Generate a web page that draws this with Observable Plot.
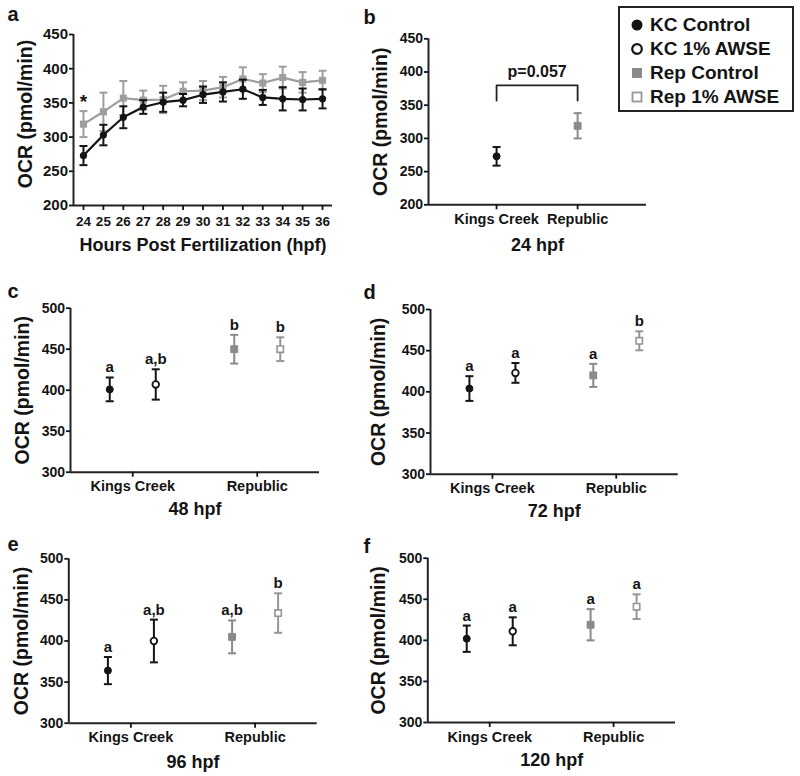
<!DOCTYPE html>
<html><head><meta charset="utf-8">
<script src="https://cdn.jsdelivr.net/npm/d3@7"></script>
<script src="https://cdn.jsdelivr.net/npm/@observablehq/plot@0.6"></script>
<style>
body{margin:0;background:#fff;}
#wrap{position:relative;width:800px;height:776px;background:#fff;font-family:"Liberation Sans",Arial,sans-serif;color:#141414;overflow:hidden;}
.p{position:absolute;}
#legend{position:absolute;left:618px;top:6px;width:172px;height:102px;border:2px solid #222;background:#fff;}
#legend .row{position:absolute;left:0;height:24px;display:flex;align-items:center;font-weight:bold;font-size:19px;white-space:nowrap;}
#legend svg{margin-left:10px;margin-right:6px;}
</style></head><body><div id="wrap"></div><script>
// ---------- data ----------
const hpf = [24,25,26,27,28,29,30,31,32,33,34,35,36];
const kcControlA = [273,303,329,344,351,354,362,366,370,358,356,355,356];
const kcControlSemA = [14,15,16,10,14,9,12,14,14,11,17,16,14];
const repControlA = [319,337,357,354,355,367,368,373,385,379,387,380,383];
const repControlSemA = [19,28,25,14,20,13,14,15,17,13,16,15,14];
const starHpf = [24];

const sites = ["Kings Creek","Republic"];
const groups = ["KC Control","KC 1% AWSE","Rep Control","Rep 1% AWSE"];
const groupSite = [1,1,2,2];

const groupsB = ["KC Control","Rep Control"];
const siteB = [1,2];
const ocr24 = [273,319];
const sem24 = [14,19];
const pText = ["p=0.057"];
const bracketY = [357,380];

const ocr48 = [401,407,450,450];
const sem48 = [14.5,18.5,17.5,14.5];
const sig48 = ["a","a,b","b","b"];
const ocr72 = [404,423,420,462];
const sem72 = [15,12,14,11.5];
const sig72 = ["a","a","a","b"];
const ocr96 = [364,400,405,434];
const sem96 = [16.5,26,20,24];
const sig96 = ["a","a,b","a,b","b"];
const ocr120 = [402,411,419,441];
const sem120 = [16,17,19,15];
const sig120 = ["a","a","a","a"];

const yTicksA = [200,250,300,350,400,450];
const yTicksC = [300,350,400,450,500];

// ---------- styles ----------
const ink = "#141414";
const greyA = "#9e9e9e";
const greyF = "#8a8a8a";
const greyO = "#969696";
const style = {
  "KC Control":  {symbol:"circle", fill:ink,   stroke:ink,   r:3.5, sw:1,  bar:ink,   dx:-23},
  "KC 1% AWSE":  {symbol:"circle", fill:"#fff",stroke:ink,   r:3.3, sw:1.8,bar:ink,   dx:23},
  "Rep Control": {symbol:"square", fill:greyF, stroke:greyF, r:3.9, sw:1,  bar:greyF, dx:-23},
  "Rep 1% AWSE": {symbol:"square", fill:"#fff",stroke:greyO, r:3.6, sw:1.6,bar:greyO, dx:23}
};
const cap = {draw(ctx, size){const w = Math.sqrt(size/Math.PI); ctx.moveTo(-w,0); ctx.lineTo(w,0);}};

function errMarks(rows, color, dx, capR=4, sw=2){
  return [
    Plot.ruleX(rows, {x:"x", y1:d=>d.v-d.e, y2:d=>d.v+d.e, stroke:color, strokeWidth:sw, dx}),
    Plot.dot(rows, {x:"x", y:d=>d.v+d.e, symbol:cap, r:capR, stroke:color, strokeWidth:sw, fill:"none", dx}),
    Plot.dot(rows, {x:"x", y:d=>d.v-d.e, symbol:cap, r:capR, stroke:color, strokeWidth:sw, fill:"none", dx})
  ];
}

const wrap = document.getElementById("wrap");

function panel(cfg){
  const {box, frame:[fx0,fy0,fx1,fy1], xDomain, yDomain, yTicks, xAxis, marks, letter, letterPos, ylabX, ylabDy=0, xTitle, xTitleY, yFont=14} = cfg;
  const common = [];
  common.push(Plot.ruleX([xDomain[0]], {stroke:"#222", strokeWidth:2}));
  common.push(Plot.ruleY([yDomain[0]], {stroke:"#222", strokeWidth:2}));
  common.push(Plot.axisY({ticks:yTicks, tickSize:4, tickPadding:1.5, fontSize:yFont, fontWeight:"bold", strokeWidth:1.8, label:null}));
  common.push(xAxis);
  common.push(Plot.text([letter], {text:d=>d, frameAnchor:"top-left", dx:letterPos[0]-fx0, dy:letterPos[1]-fy0, textAnchor:"start", lineAnchor:"bottom", fontSize:20, fontWeight:"bold"}));
  common.push(Plot.text(["OCR (pmol/min)"], {text:d=>d, frameAnchor:"left", dx:ylabX-fx0, dy:ylabDy, rotate:-90, textAnchor:"middle", lineAnchor:"middle", fontSize:19.5, fontWeight:"bold"}));
  common.push(Plot.text([xTitle], {text:d=>d, frameAnchor:"bottom", dx:0, dy:xTitleY-fy1, textAnchor:"middle", lineAnchor:"middle", fontSize:18, fontWeight:"bold"}));
  const svg = Plot.plot({
    width:box.width, height:box.height,
    marginLeft:fx0-box.left, marginRight:box.left+box.width-fx1,
    marginTop:fy0-box.top, marginBottom:box.top+box.height-fy1,
    x:{type:"linear", domain:xDomain},
    y:{type:"linear", domain:yDomain},
    style:{fontFamily:'"Liberation Sans", Arial, sans-serif', fontWeight:"bold", color:ink, background:"transparent", overflow:"visible"},
    marks:[...common, ...marks]
  });
  const d = document.createElement("div");
  d.className = "p";
  d.style.left = box.left+"px"; d.style.top = box.top+"px";
  d.appendChild(svg);
  wrap.appendChild(d);
}

const catAxis = Plot.axisX({ticks:[1,2], tickFormat:i=>sites[i-1], tickSize:5, tickPadding:4, fontSize:14.5, fontWeight:"bold", strokeWidth:1.8, label:null});

// ---------- panel a ----------
{
  const kc = hpf.map((h,i)=>({x:h, v:kcControlA[i], e:kcControlSemA[i]}));
  const rep = hpf.map((h,i)=>({x:h, v:repControlA[i], e:repControlSemA[i]}));
  const star = starHpf.map(h=>{const i=hpf.indexOf(h); return {x:h, y:repControlA[i]+repControlSemA[i]};});
  panel({
    box:{left:0, top:0, width:350, height:270}, frame:[73,34,332,205],
    xDomain:[23.5,36.5], yDomain:[200,450], yTicks:yTicksA, yFont:15,
    xAxis:Plot.axisX({ticks:hpf, tickSize:5, tickPadding:6, fontSize:13.5, fontWeight:"bold", strokeWidth:1.8, label:null}),
    letter:"a", letterPos:[7,20], ylabX:25, ylabDy:-6,
    xTitle:"Hours Post Fertilization (hpf)", xTitleY:245,
    marks:[
      ...errMarks(rep, greyA, 0, 4, 2),
      Plot.line(rep, {x:"x", y:"v", stroke:greyA, strokeWidth:2.2}),
      Plot.dot(rep, {x:"x", y:"v", symbol:"square", r:4, fill:greyA}),
      ...errMarks(kc, ink, 0, 4, 2),
      Plot.line(kc, {x:"x", y:"v", stroke:ink, strokeWidth:2.2}),
      Plot.dot(kc, {x:"x", y:"v", symbol:"circle", r:3.6, fill:ink}),
      Plot.text(star, {x:"x", y:"y", text:()=>"*", dy:-3, lineAnchor:"bottom", fontSize:19, fontWeight:"bold", fill:ink})
    ]
  });
}

// ---------- panel b ----------
{
  const rows = groupsB.map((g,i)=>({g, x:siteB[i], v:ocr24[i], e:sem24[i]}));
  const marks = [];
  for (const r of rows){
    const s = style[r.g];
    marks.push(...errMarks([r], s.bar, 0, 4, 2));
    marks.push(Plot.dot([r], {x:"x", y:"v", symbol:s.symbol, r:s.r, fill:s.fill, stroke:s.stroke, strokeWidth:s.sw}));
  }
  const bracket = [{x:siteB[0], y:bracketY[0]},{x:siteB[0], y:bracketY[1]},{x:siteB[1], y:bracketY[1]},{x:siteB[1], y:bracketY[0]}];
  marks.push(Plot.line(bracket, {x:"x", y:"y", stroke:"#222", strokeWidth:1.8}));
  marks.push(Plot.text(pText, {x:(siteB[0]+siteB[1])/2, y:bracketY[1], text:d=>d, dy:-8, lineAnchor:"bottom", fontSize:16, fontWeight:"bold", fill:ink}));
  panel({
    box:{left:350, top:0, width:450, height:270}, frame:[428,38.3,646,204.3],
    xDomain:[0.16,2.85], yDomain:[200,450], yTicks:yTicksA, yFont:14,
    xAxis:catAxis, letter:"b", letterPos:[363,23], ylabX:380,
    xTitle:"24 hpf", xTitleY:245, marks
  });
}

// ---------- panels c-f ----------
function groupPanel(vals, sems, sigs, cfg){
  const rows = groups.map((g,i)=>({g, x:groupSite[i], v:vals[i], e:sems[i], lab:sigs[i]}));
  const marks = [];
  for (const r of rows){
    const s = style[r.g];
    marks.push(...errMarks([r], s.bar, s.dx, 4, 2));
    marks.push(Plot.dot([r], {x:"x", y:"v", symbol:s.symbol, r:s.r, fill:s.fill, stroke:s.stroke, strokeWidth:s.sw, dx:s.dx}));
    marks.push(Plot.text([r], {x:"x", y:d=>d.v+d.e, text:"lab", dx:s.dx, dy:-5, lineAnchor:"bottom", fontSize:15, fontWeight:"bold", fill:ink}));
  }
  panel({...cfg, xDomain:[0.5,2.5], yDomain:[300,500], yTicks:yTicksC, xAxis:catAxis, marks});
}
groupPanel(ocr48, sem48, sig48, {box:{left:0,top:270,width:350,height:250}, frame:[70,307.7,319,471.7], letter:"c", letterPos:[7,297], ylabX:22.7, xTitle:"48 hpf", xTitleY:509});
groupPanel(ocr72, sem72, sig72, {box:{left:350,top:270,width:450,height:250}, frame:[430,309,677.7,473.7], letter:"d", letterPos:[363,298], ylabX:378, xTitle:"72 hpf", xTitleY:511});
groupPanel(ocr96, sem96, sig96, {box:{left:0,top:520,width:350,height:256}, frame:[68.3,558.3,316.7,722.7], letter:"e", letterPos:[7,550], ylabX:21.7, xTitle:"96 hpf", xTitleY:761.5});
groupPanel(ocr120, sem120, sig120, {box:{left:350,top:520,width:450,height:256}, frame:[427.3,557.7,675,722], letter:"f", letterPos:[363,552], ylabX:378, xTitle:"120 hpf", xTitleY:759.3});

// ---------- legend ----------
{
  const lg = document.createElement("div");
  lg.id = "legend";
  const glyph = {
    "KC Control": `<circle cx="7" cy="7" r="5.5" fill="${ink}"/>`,
    "KC 1% AWSE": `<circle cx="7" cy="7" r="4.8" fill="#fff" stroke="${ink}" stroke-width="2.2"/>`,
    "Rep Control": `<rect x="2" y="2" width="10" height="10" fill="${greyF}"/>`,
    "Rep 1% AWSE": `<rect x="2.5" y="2.5" width="9" height="9" fill="#fff" stroke="${greyO}" stroke-width="1.8"/>`
  };
  groups.forEach((g,i)=>{
    const row = document.createElement("div");
    row.className = "row";
    row.style.top = (4.7 + i*24) + "px";
    row.innerHTML = `<svg width="14" height="14">${glyph[g]}</svg><span>${g}</span>`;
    lg.appendChild(row);
  });
  wrap.appendChild(lg);
}
</script></body></html>
